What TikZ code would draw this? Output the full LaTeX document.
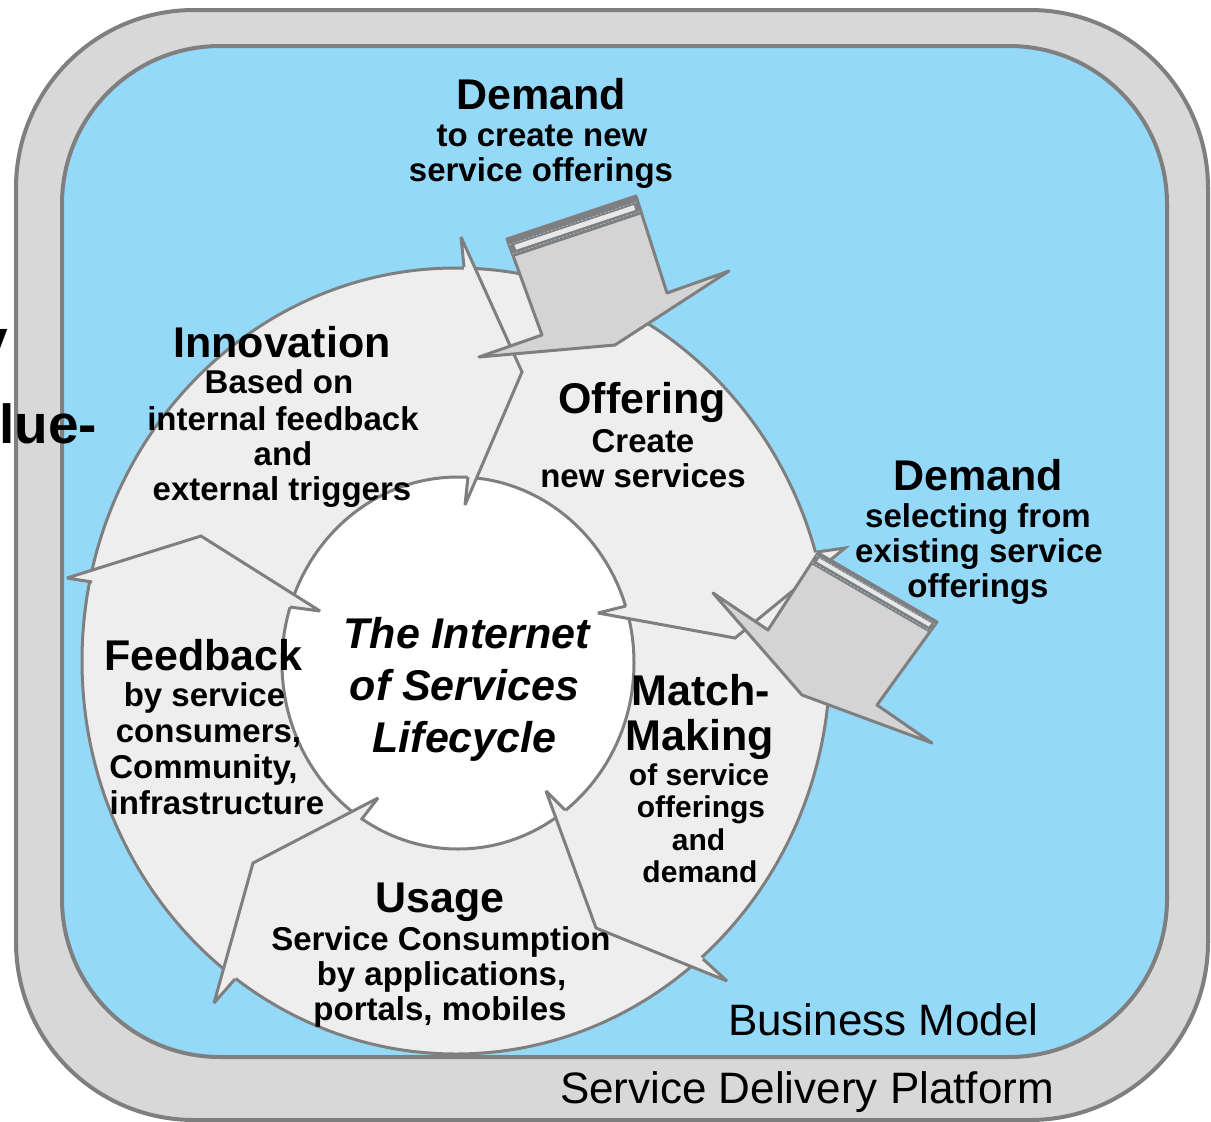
\documentclass[tikz,border=0pt]{standalone}
\usepackage{fontspec}
\setmainfont{Liberation Sans}
\usetikzlibrary{calc}
\definecolor{skyb}{HTML}{95D9F9}
\definecolor{framegray}{HTML}{D8D8D8}
\definecolor{ringgray}{HTML}{EEEEEE}
\definecolor{linegray}{HTML}{7F7F7F}
\definecolor{demgray}{HTML}{D4D4D4}
\definecolor{stripegray}{HTML}{E8E8E8}
\definecolor{dashblue}{HTML}{9CC4DC}
\newcommand\headshape[5]{%
  \fill[ringgray] #1--#2--#3--#4--#5--cycle;
  \draw[ringline] #1--#2--#3--#4--#5;}
\begin{document}
\begin{tikzpicture}[x=1pt,y=-1pt,
  txt/.style={inner sep=0pt, outer sep=0pt, anchor=base, text=black},
  ttl/.style={txt, font=\fontsize{43}{46}\selectfont\bfseries},
  sub/.style={txt, font=\fontsize{33}{36}\selectfont\bfseries},
  subs/.style={txt, font=\fontsize{30}{33}\selectfont\bfseries},
  ctr/.style={txt, font=\fontsize{43}{46}\selectfont\bfseries\itshape},
  plain/.style={txt, anchor=base west, font=\fontsize{44}{48}\selectfont},
  cut/.style={txt, anchor=base east, font=\fontsize{55}{60}\selectfont\bfseries},
  ringline/.style={draw=linegray, line width=3pt, line join=miter, miter limit=4},
  demandbody/.style={fill=demgray, draw=linegray, line width=3pt, line join=round},
  dashline/.style={draw=dashblue, line width=0.7pt, dash pattern=on 2pt off 2pt},
]
\useasboundingbox (0,0) rectangle (1211,1122);
\fill[white] (0,0) rectangle (1211,1122);

% frame: Service Delivery Platform and Business Model
\draw[fill=framegray, draw=linegray, line width=4pt, rounded corners=178pt] (16,10) rectangle (1208,1120);
\draw[fill=skyb, draw=linegray, line width=4pt, rounded corners=158pt] (62,46) rectangle (1167,1057);

% lifecycle ring
\draw[fill=ringgray, ringline] (456,661) ellipse [x radius=374pt, y radius=393pt];
\draw[fill=white, ringline] (458,663) ellipse [x radius=176pt, y radius=186pt];

% arrow heads of the cycle segments
\headshape{(464,267)}{(461,237)}{(522,372)}{(465,505)}{(468,477)}
\headshape{(817,552)}{(845,548)}{(735,638)}{(598,613)}{(626,606)}
\headshape{(703,959)}{(727,981)}{(596,928)}{(546,791)}{(565,810)}
\headshape{(235,979)}{(214,1003)}{(253,863)}{(378,798)}{(361,820)}
\headshape{(92,582)}{(67,578)}{(201,536)}{(320,611)}{(290,607)}

% demand arrow (top)
\coordinate (P1) at (507,239);
\coordinate (P2) at (636,196);
\coordinate (P3) at (667,293);
\coordinate (PRB) at (729,271);
\coordinate (PT) at (615,345);
\coordinate (PLB) at (479,357);
\coordinate (P4) at (542,335);
\draw[demandbody] (P1)--(P2)--(P3)--(PRB)--(PT)--(PLB)--(P4)--cycle;
\fill[linegray] (P1)--(P2)--($(P2)!19pt!(P3)$)--($(P1)!19pt!(P4)$)--cycle;
\coordinate (pa1) at ($(P1)!8pt!(P4)$);
\coordinate (pa2) at ($(P2)!8pt!(P3)$);
\coordinate (pb1) at ($(P1)!13pt!(P4)$);
\coordinate (pb2) at ($(P2)!13pt!(P3)$);
\fill[stripegray] ($(pa1)!5pt!(pa2)$)--($(pa2)!5pt!(pa1)$)--($(pb2)!5pt!(pb1)$)--($(pb1)!5pt!(pb2)$)--cycle;
\draw[dashline] ($(P1)!6pt!(P4)$)--($(P2)!6pt!(P3)$);
\draw[dashline] ($(P1)!16pt!(P4)$)--($(P2)!16pt!(P3)$);

% demand arrow (right)
\coordinate (Q1) at (818,553);
\coordinate (Q2) at (937,622);
\coordinate (Q3) at (877,705);
\coordinate (QRB) at (932,743);
\coordinate (QT) at (802,695);
\coordinate (QLB) at (713,593);
\coordinate (Q4) at (768,630);
\draw[demandbody] (Q1)--(Q2)--(Q3)--(QRB)--(QT)--(QLB)--(Q4)--cycle;
\fill[linegray] (Q1)--(Q2)--($(Q2)!13pt!(Q3)$)--($(Q1)!13pt!(Q4)$)--cycle;
\coordinate (qa1) at ($(Q1)!4pt!(Q4)$);
\coordinate (qa2) at ($(Q2)!4pt!(Q3)$);
\coordinate (qb1) at ($(Q1)!8pt!(Q4)$);
\coordinate (qb2) at ($(Q2)!8pt!(Q3)$);
\fill[stripegray] ($(qa1)!4pt!(qa2)$)--($(qa2)!4pt!(qa1)$)--($(qb2)!4pt!(qb1)$)--($(qb1)!4pt!(qb2)$)--cycle;
\draw[dashline] ($(Q1)!3pt!(Q4)$)--($(Q2)!3pt!(Q3)$);
\draw[dashline] ($(Q1)!11pt!(Q4)$)--($(Q2)!11pt!(Q3)$);

% texts: demand (top)
\node[ttl] (demA1) at (541,109) {Demand};
\node[sub] (demA2) at (542,146) {to create new};
\node[sub] (demA3) at (541,181) {service offerings};
% demand (right)
\node[ttl] (demB1) at (978,490) {Demand};
\node[sub] (demB2) at (978,527) {selecting from};
\node[sub] (demB3) at (979,562) {existing service};
\node[sub] (demB4) at (978,597) {offerings};
% innovation
\node[ttl] (inn1) at (282,357) {Innovation};
\node[sub] (inn2) at (279,393) {Based on};
\node[sub] (inn3) at (283,430) {internal feedback};
\node[sub] (inn4) at (283,465) {and};
\node[sub] (inn5) at (282,500) {external triggers};
% offering
\node[ttl] (off1) at (642,413) {Offering};
\node[sub] (off2) at (643,452) {Create};
\node[sub] (off3) at (643,487) {new services};
% match-making
\node[ttl] (mat1) at (701,705) {Match-};
\node[ttl] (mat2) at (700,750) {Making};
\node[subs] (mat3) at (699,785) {of service};
\node[subs] (mat4) at (701,817) {offerings};
\node[subs] (mat5) at (698.5,850) {and};
\node[subs] (mat6) at (700,882) {demand};
% feedback
\node[ttl] (fee1) at (203.5,670) {Feedback};
\node[sub] (fee2) at (204.5,706) {by service};
\node[sub] (fee3) at (208.5,742) {consumers,};
\node[sub] (fee4) at (203.5,778) {Community,};
\node[sub] (fee5) at (217,814) {infrastructure};
% usage
\node[ttl] (usa1) at (440,912) {Usage};
\node[sub] (usa2) at (441,950) {Service Consumption};
\node[sub] (usa3) at (441.5,985) {by applications,};
\node[sub] (usa4) at (440,1020) {portals, mobiles};
% centre
\node[ctr] (ctr1) at (466.5,648) {The Internet};
\node[ctr] (ctr2) at (464.5,700) {of Services};
\node[ctr] (ctr3) at (464.5,752) {Lifecycle};
% layers
\node[plain] (bm) at (728,1035) {Business Model};
\node[plain] (sdp) at (560,1103) {Service Delivery Platform};
% cut-off texts at the left border
\node[cut] (cutA) at (8,358) {y};
\node[cut] (cutB) at (97,443) {Value-};
\end{tikzpicture}
\end{document}
